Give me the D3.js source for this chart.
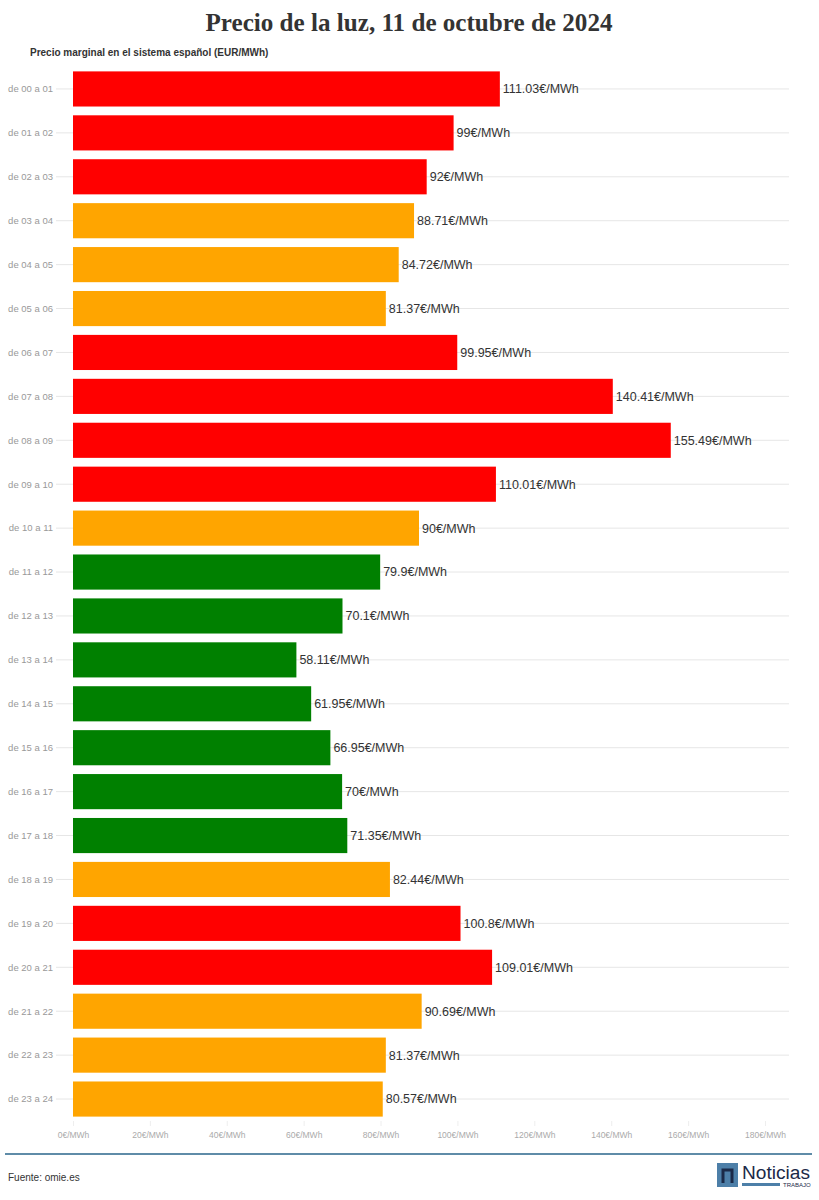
<!DOCTYPE html>
<html>
<head>
<meta charset="utf-8">
<script src="https://cdn.jsdelivr.net/npm/d3@7"></script>
<style>
  body { margin: 0; background: #fff; }
  svg { display: block; font-family: "Liberation Sans", "Noto Sans", sans-serif; }
</style>
</head>
<body>
<div id="chart"></div>
<script>
// datos del gráfico
const hours = ["de 00 a 01", "de 01 a 02", "de 02 a 03", "de 03 a 04", "de 04 a 05", "de 05 a 06",
  "de 06 a 07", "de 07 a 08", "de 08 a 09", "de 09 a 10", "de 10 a 11", "de 11 a 12",
  "de 12 a 13", "de 13 a 14", "de 14 a 15", "de 15 a 16", "de 16 a 17", "de 17 a 18",
  "de 18 a 19", "de 19 a 20", "de 20 a 21", "de 21 a 22", "de 22 a 23", "de 23 a 24"];
const prices = [111.03, 99, 92, 88.71, 84.72, 81.37, 99.95, 140.41, 155.49, 110.01, 90, 79.9,
  70.1, 58.11, 61.95, 66.95, 70, 71.35, 82.44, 100.8, 109.01, 90.69, 81.37, 80.57];
const levels = ["alto", "alto", "alto", "medio", "medio", "medio", "alto", "alto", "alto", "alto", "medio", "bajo",
  "bajo", "bajo", "bajo", "bajo", "bajo", "bajo", "medio", "alto", "alto", "medio", "medio", "medio"];
const xTicks = [0, 20, 40, 60, 80, 100, 120, 140, 160, 180];

const levelColor = { alto: "#ff0000", medio: "#ffa500", bajo: "#008000" };

const width = 819, height = 1200;
const rows = hours.map((h, i) => ({ hour: h, price: prices[i], level: levels[i] }));

const svg = d3.select("#chart").append("svg")
  .attr("width", width)
  .attr("height", height);

// título y subtítulo
svg.append("text")
  .attr("x", 409).attr("y", 31)
  .attr("text-anchor", "middle")
  .attr("font-family", "'Liberation Serif', serif")
  .attr("font-weight", "bold")
  .attr("font-size", "25px")
  .attr("fill", "#333")
  .attr("textLength", 407)
  .attr("lengthAdjust", "spacingAndGlyphs")
  .text("Precio de la luz, 11 de octubre de 2024");

svg.append("text")
  .attr("x", 30).attr("y", 56)
  .attr("font-weight", "bold")
  .attr("font-size", "10px")
  .attr("fill", "#333")
  .text("Precio marginal en el sistema español (EUR/MWh)");

const x = d3.scaleLinear().domain([0, 180]).range([73, 765]);
const y = d3.scaleBand().domain(hours).range([67, 1121]).paddingInner(0.2).paddingOuter(0.1);

// líneas de cuadrícula por fila
svg.append("g")
  .selectAll("line")
  .data(rows)
  .enter()
  .append("line")
  .attr("x1", 56).attr("x2", 789)
  .attr("y1", d => y(d.hour) + y.bandwidth() / 2)
  .attr("y2", d => y(d.hour) + y.bandwidth() / 2)
  .attr("stroke", "#e6e6e6")
  .attr("stroke-width", 1);

// etiquetas de horas
svg.append("g")
  .selectAll("text")
  .data(rows)
  .enter()
  .append("text")
  .attr("x", 53)
  .attr("y", d => y(d.hour) + y.bandwidth() / 2)
  .attr("dy", "0.35em")
  .attr("text-anchor", "end")
  .attr("font-size", "9.5px")
  .attr("fill", "#999")
  .text(d => d.hour);

// barras
svg.append("g")
  .selectAll("rect")
  .data(rows)
  .enter()
  .append("rect")
  .attr("x", x(0))
  .attr("y", d => y(d.hour))
  .attr("width", d => x(d.price) - x(0))
  .attr("height", y.bandwidth())
  .attr("fill", d => levelColor[d.level]);

// valores
svg.append("g")
  .selectAll("text")
  .data(rows)
  .enter()
  .append("text")
  .attr("x", d => x(d.price) + 3)
  .attr("y", d => y(d.hour) + y.bandwidth() / 2)
  .attr("dy", "0.35em")
  .attr("font-size", "12.5px")
  .attr("fill", "#333")
  .text(d => d3.format("~f")(d.price) + "€/MWh");

// eje x
const axis = svg.append("g")
  .attr("transform", "translate(0,1121)")
  .call(d3.axisBottom(x).tickValues(xTicks).tickSize(5).tickFormat(d => d + "€/MWh"));
axis.select(".domain").remove();
axis.selectAll(".tick line").attr("stroke", "#eee");
axis.selectAll(".tick text")
  .attr("fill", "#aaa")
  .attr("font-size", "8.5px")
  .attr("font-family", "'Liberation Sans', sans-serif")
  .attr("dy", "1.1em");

// pie
svg.append("line")
  .attr("x1", 5).attr("x2", 812)
  .attr("y1", 1154).attr("y2", 1154)
  .attr("stroke", "#5f8ca8")
  .attr("stroke-width", 2);

svg.append("text")
  .attr("x", 8).attr("y", 1181)
  .attr("font-size", "10px")
  .attr("fill", "#333")
  .text("Fuente: omie.es");

// logo
const logo = svg.append("g").attr("transform", "translate(717,1163)");
logo.append("rect").attr("width", 21).attr("height", 24).attr("fill", "#4d7fa8");
logo.append("path")
  .attr("d", "M6,20 V7 H15 V20")
  .attr("fill", "none")
  .attr("stroke", "#1b2a48")
  .attr("stroke-width", 3);
logo.append("text")
  .attr("x", 25).attr("y", 16)
  .attr("font-size", "18px")
  .attr("fill", "#1b2a48")
  .attr("textLength", 68)
  .attr("lengthAdjust", "spacingAndGlyphs")
  .text("Noticias");
logo.append("rect").attr("x", 25).attr("y", 20).attr("width", 38).attr("height", 3).attr("fill", "#4d7fa8");
logo.append("text")
  .attr("x", 66).attr("y", 24)
  .attr("font-size", "6px")
  .attr("fill", "#1b2a48")
  .text("TRABAJO");
</script>
</body>
</html>
